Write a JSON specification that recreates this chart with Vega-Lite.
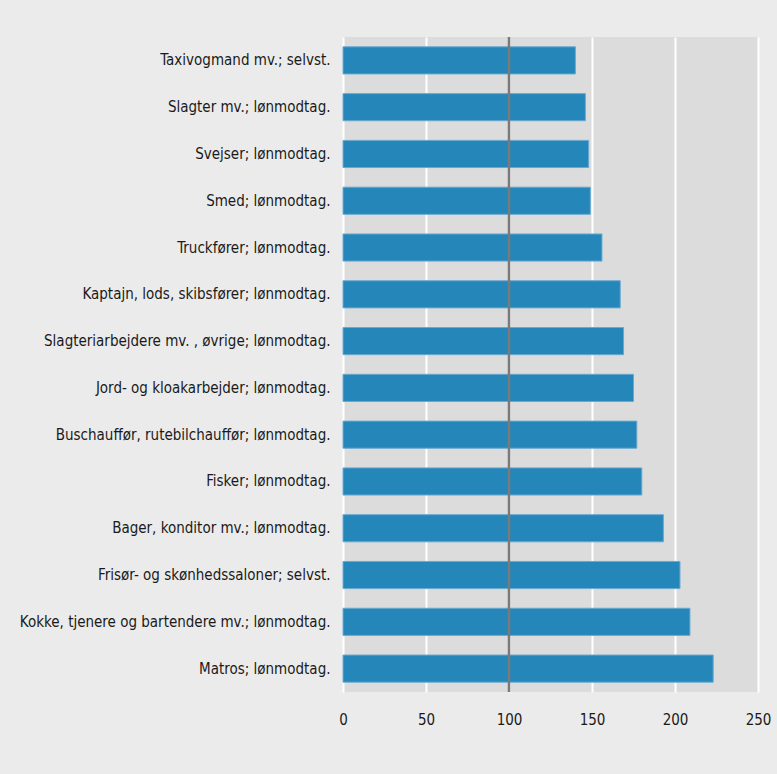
{
  "$schema": "https://vega.github.io/schema/vega-lite/v6.json",
  "width": 415,
  "height": 655,
  "autosize": {"type": "none"},
  "padding": {"left": 343, "top": 37, "right": 19, "bottom": 82},
  "background": "#ebebeb",
  "config": {
    "view": {"fill": "#dcdcdc", "stroke": null},
    "font": "DejaVu Sans Condensed, Roboto, sans-serif"
  },
  "data": {
    "values": [
      {"group": "Taxivogmand mv.; selvst.", "value": 140},
      {"group": "Slagter mv.; lønmodtag.", "value": 146},
      {"group": "Svejser; lønmodtag.", "value": 148},
      {"group": "Smed; lønmodtag.", "value": 149},
      {"group": "Truckfører; lønmodtag.", "value": 156},
      {"group": "Kaptajn, lods, skibsfører; lønmodtag.", "value": 167},
      {"group": "Slagteriarbejdere mv. , øvrige; lønmodtag.", "value": 169},
      {"group": "Jord- og kloakarbejder; lønmodtag.", "value": 175},
      {"group": "Buschauffør, rutebilchauffør; lønmodtag.", "value": 177},
      {"group": "Fisker; lønmodtag.", "value": 180},
      {"group": "Bager, konditor mv.; lønmodtag.", "value": 193},
      {"group": "Frisør- og skønhedssaloner; selvst.", "value": 203},
      {"group": "Kokke, tjenere og bartendere mv.; lønmodtag.", "value": 209},
      {"group": "Matros; lønmodtag.", "value": 223}
    ]
  },
  "layer": [
    {
      "mark": {"type": "bar", "color": "#2586ba", "stroke": "#6aa9cf", "strokeWidth": 1},
      "encoding": {
        "y": {
          "field": "group",
          "type": "nominal",
          "sort": null,
          "title": null,
          "scale": {"paddingInner": 0.42, "paddingOuter": 0.21},
          "axis": {
            "domain": false,
            "ticks": false,
            "labelPadding": 13,
            "labelFontSize": 15,
            "labelColor": "#1a1a1a",
            "labelLimit": 400
          }
        },
        "x": {
          "field": "value",
          "type": "quantitative",
          "title": null,
          "scale": {"domain": [0, 250], "nice": false},
          "axis": {
            "values": [0, 50, 100, 150, 200, 250],
            "domain": false,
            "ticks": false,
            "grid": true,
            "gridColor": "#ffffff",
            "gridWidth": 2,
            "gridOpacity": 1,
            "labelPadding": 20,
            "labelFontSize": 15,
            "labelColor": "#1a1a1a",
            "labelFlush": false
          }
        }
      }
    },
    {
      "data": {"values": [{"ref": 100}]},
      "mark": {"type": "rule", "color": "#7a7a7a", "strokeWidth": 2.5},
      "encoding": {
        "x": {"field": "ref", "type": "quantitative"}
      }
    }
  ]
}
